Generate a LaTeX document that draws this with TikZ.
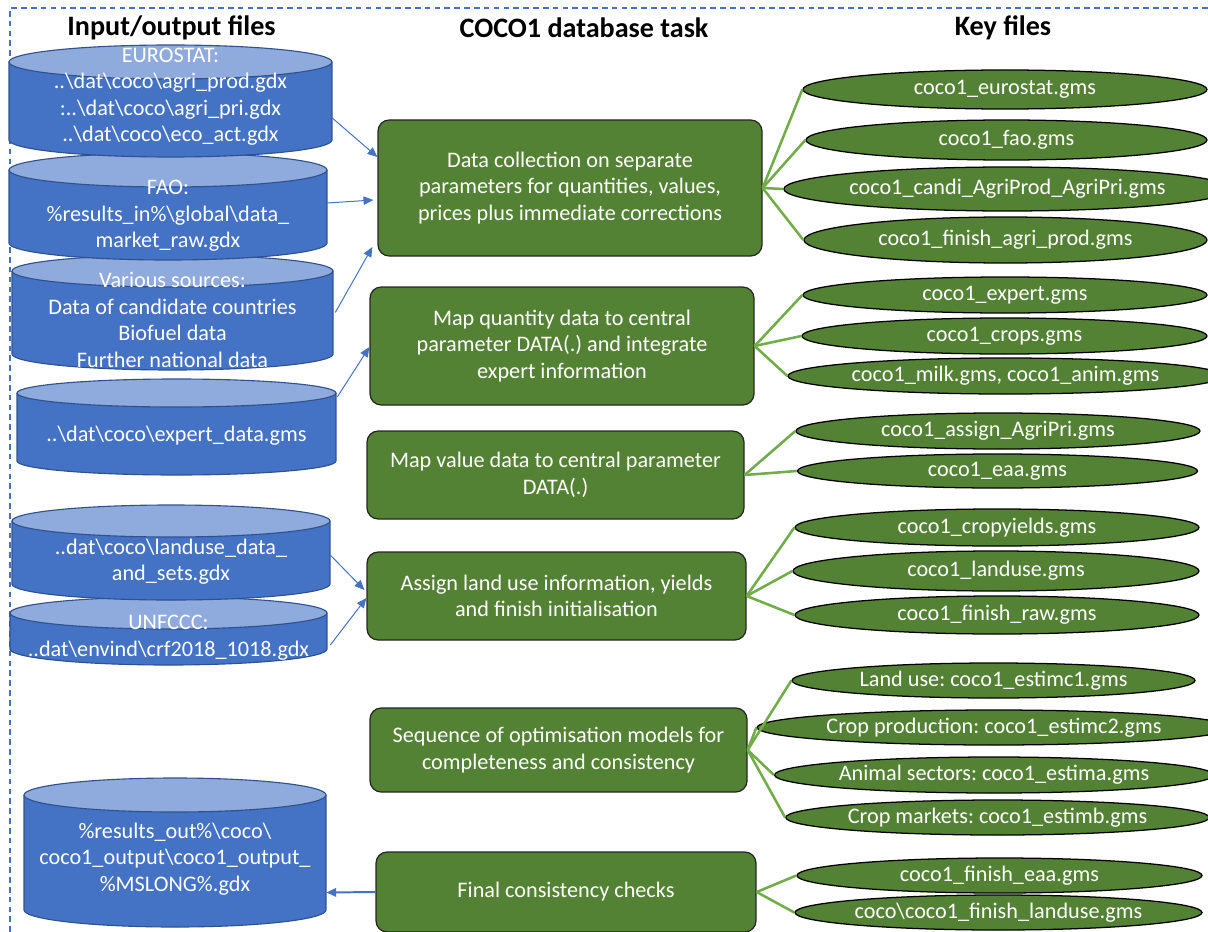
\documentclass[tikz,border=0pt]{standalone}
\usepackage{fontspec}
\setmainfont{Carlito}
\usetikzlibrary{shapes.geometric,arrows.meta,calc}

\definecolor{drumblue}{HTML}{4472C4}
\definecolor{drumlight}{HTML}{8FAADC}
\definecolor{drumedge}{HTML}{2F528F}
\definecolor{taskgreen}{HTML}{548235}
\definecolor{linkgreen}{HTML}{70AD47}

\newcommand\bs{\textbackslash}
\frenchspacing

\tikzset{
  px/.style 2 args={minimum width=(#1)*0.025cm, minimum height=(#2)*0.025cm},
  task/.style={draw=black!85, line width=0.9pt, fill=taskgreen, rounded corners=8pt,
    text=white, align=center, inner sep=0pt},
  keyfile/.style={ellipse, draw=black, line width=0.9pt, fill=taskgreen, text=white, inner sep=0pt},
  drumbody/.style={inner sep=0pt},
  drumtext/.style={text=white, align=center, inner sep=0pt},
  feed/.style={draw=drumblue, line width=0.7pt, -{Triangle[length=7pt,width=6pt]}},
  link/.style={draw=linkgreen, line width=1.8pt},
  header/.style={font=\fontsize{20}{22}\selectfont\bfseries},
  frame/.style={draw=drumblue, line width=1pt, dash pattern=on 4pt off 3pt}
}

% database drum: name, left x, right x, top y, bottom y, radius y, text y, text
\newcommand\drum[8]{%
  \fill[drumblue] (#2,#4) rectangle (#3,#5);
  \fill[drumblue] ({(#2+#3)/2},#5) ellipse [x radius={(#3-#2)/2}, y radius=#6];
  \draw[drumedge, line width=0.8pt] (#2,#4) -- (#2,#5)
    arc [start angle=180, end angle=0, x radius={(#3-#2)/2}, y radius=#6] -- (#3,#4);
  \filldraw[fill=drumlight, draw=drumedge, line width=0.8pt]
    ({(#2+#3)/2},#4) ellipse [x radius={(#3-#2)/2}, y radius=#6];
  \node[drumbody, px={#3-#2}{#5-#4}] (#1) at ({(#2+#3)/2},{(#4+#5)/2}) {};
  \node[drumtext] (#1-text) at ({(#2+#3)/2},#7) {#8};
}

\begin{document}
\begin{tikzpicture}[x=0.025cm, y=-0.025cm, font=\fontsize{15.8}{18.8}\selectfont]
  \useasboundingbox (0,0) rectangle (1208,932);
  \draw[frame] (1208,8) -- (10,8) -- (10,932);

  \node[header] (h-files) at (171.5,28) {Input/output files};
  \node[header] (h-task) at (584,28) {COCO1 database task};
  \node[header] (h-key) at (1003,28) {Key files};

  % input/output files, lowest first
  \drum{db-output}{24}{326}{795}{910}{17}{859}{\%results\_out\%\bs coco\bs\\coco1\_output\bs coco1\_output\_\\\%MSLONG\%.gdx}
  \drum{db-unfccc}{10}{327}{613}{649}{16}{637.5}{UNFCCC:\\..dat\bs envind\bs crf2018\_1018.gdx}
  \drum{db-landuse}{12}{330}{521}{584}{16}{561.5}{..dat\bs coco\bs landuse\_data\_\\and\_sets.gdx}
  \drum{db-expert}{17}{336}{393}{461}{14}{436}{..\bs dat\bs coco\bs expert\_data.gms}
  \drum{db-various}{12}{333}{271}{354}{16}{320}{Various sources:\\Data of candidate countries\\Biofuel data\\Further national data}
  \drum{db-fao}{9}{327}{170}{243}{17}{216}{FAO:\\\%results\_in\%\bs global\bs data\_\\market\_raw.gdx}
  \drum{db-eurostat}{9}{332}{62}{140}{17}{96.5}{EUROSTAT:\\..\bs dat\bs coco\bs agri\_prod.gdx\\:..\bs dat\bs coco\bs agri\_pri.gdx\\..\bs dat\bs coco\bs eco\_act.gdx}

  % tasks
  \node[task, px={384}{136}] (collect) at (570,188) {Data collection on separate\\parameters for quantities, values,\\prices plus immediate corrections};
  \node[task, px={384}{118}] (mapqty) at (562,346) {Map quantity data to central\\parameter DATA(.) and integrate\\expert information};
  \node[task, px={377}{88}] (mapval) at (555.5,475) {Map value data to central parameter\\DATA(.)};
  \node[task, px={379}{88}] (assign) at (556.5,596) {Assign land use information, yields\\and finish initialisation};
  \node[task, px={377}{84}] (optim) at (558.5,750) {Sequence of optimisation models for\\completeness and consistency};
  \node[task, px={380}{80}] (final) at (566,892) {Final consistency checks};

  % key files
  \node[keyfile, px={404}{39}] (k-eurostat) at (1005,89.5) {coco1\_eurostat.gms};
  \node[keyfile, px={401}{40}] (k-fao) at (1006.5,140) {coco1\_fao.gms};
  \node[keyfile, px={395}{44}] (k-candi) at (1007.5,189) {coco1\_candi\_AgriProd\_AgriPri.gms};
  \node[keyfile, px={403}{46}] (k-finprod) at (1005.5,240) {coco1\_finish\_agri\_prod.gms};
  \node[keyfile, px={404}{36}] (k-expert) at (1005,295) {coco1\_expert.gms};
  \node[keyfile, px={405}{36}] (k-crops) at (1004.5,336) {coco1\_crops.gms};
  \node[keyfile, px={401}{36}] (k-milk) at (1005.5,376) {coco1\_milk.gms, coco1\_anim.gms};
  \node[keyfile, px={404}{36}] (k-assign) at (998,431) {coco1\_assign\_AgriPri.gms};
  \node[keyfile, px={400}{34}] (k-eaa) at (997.5,471) {coco1\_eaa.gms};
  \node[keyfile, px={404}{37}] (k-yields) at (997,527.5) {coco1\_cropyields.gms};
  \node[keyfile, px={406}{40}] (k-landuse) at (996,571) {coco1\_landuse.gms};
  \node[keyfile, px={404}{38}] (k-finraw) at (997,615) {coco1\_finish\_raw.gms};
  \node[keyfile, px={403}{35}] (k-estc1) at (993.5,680.5) {Land use: coco1\_estimc1.gms};
  \node[keyfile, px={404}{35}] (k-estc2) at (994,727.5) {Crop production: coco1\_estimc2.gms};
  \node[keyfile, px={404}{36}] (k-esta) at (994,775) {Animal sectors: coco1\_estima.gms};
  \node[keyfile, px={405}{35}] (k-estb) at (997.5,817.5) {Crop markets: coco1\_estimb.gms};
  \node[keyfile, px={405}{35}] (k-fineaa) at (999.5,875.5) {coco1\_finish\_eaa.gms};
  \node[keyfile, px={403}{35}] (k-finland) at (998.5,912.5) {coco\bs coco1\_finish\_landuse.gms};

  % inputs and output
  \draw[feed] ($(db-eurostat.east)+(0,17)$) -- ($(collect.west)+(0,-31)$);
  \draw[feed] ($(db-fao.east)+(0,-3.5)$) -- ($(collect.west)+(-4,12)$);
  \draw[feed] ($(db-various.east)+(2,0)$) -- ($(collect.west)+(-5,59)$);
  \draw[feed] ($(db-expert.east)+(1,-30)$) -- ($(mapqty.west)+(0,1)$);
  \draw[feed] ($(db-landuse.east)+(0,2.5)$) -- ($(assign.west)+(-2,-6)$);
  \draw[feed] ($(db-unfccc.east)+(3,14)$) -- ($(assign.west)+(0,2)$);
  \draw[feed, line width=1.4pt] (final.west) -- ($(db-output.east)+(0,40)$);

  % tasks to key files
  \foreach \k in {k-eurostat,k-fao,k-candi,k-finprod}
    \draw[link] (collect.east) -- (\k.west);
  \foreach \k in {k-expert,k-crops,k-milk}
    \draw[link] (mapqty.east) -- (\k.west);
  \foreach \k in {k-assign,k-eaa}
    \draw[link] (mapval.east) -- (\k.west);
  \foreach \k in {k-yields,k-landuse,k-finraw}
    \draw[link] (assign.east) -- (\k.west);
  \foreach \k in {k-estc1,k-estc2,k-esta,k-estb}
    \draw[link] (optim.east) -- (\k.west);
  \foreach \k in {k-fineaa,k-finland}
    \draw[link] (final.east) -- (\k.west);
\end{tikzpicture}
\end{document}
